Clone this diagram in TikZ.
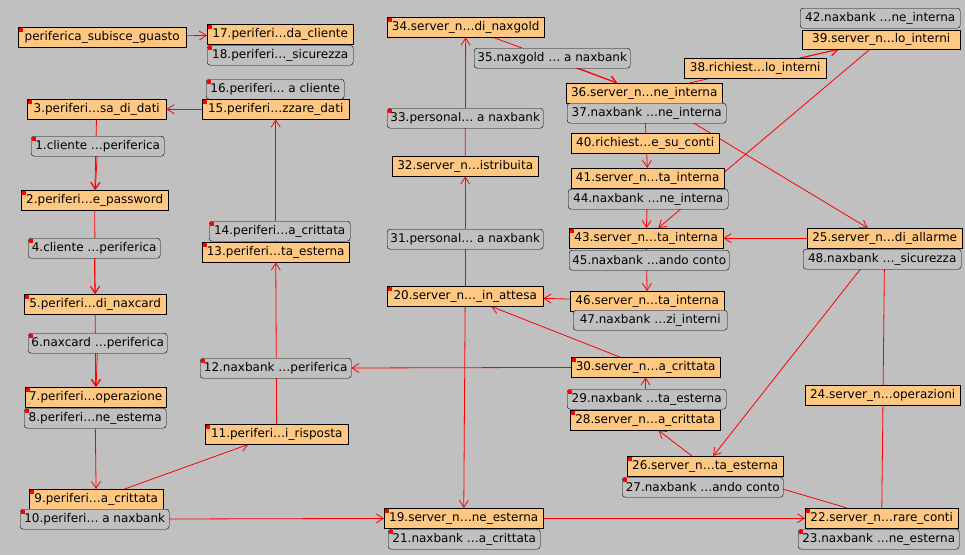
\documentclass[tikz,border=0pt]{standalone}
\usepackage{fontspec}
\usetikzlibrary{arrows.meta}
\usepackage{xcolor}
\newfontfamily\boxfont{DejaVu Sans}
\definecolor{bggrey}{RGB}{192,192,192}
\definecolor{evfill}{RGB}{255,200,130}
\pgfdeclarelayer{background}
\pgfsetlayers{background,main}

\begin{document}
\begin{tikzpicture}[
x=1pt, y=-1pt,
ev/.style={draw, fill=evfill, anchor=north west,
minimum height=20pt, inner sep=1pt,
font=\boxfont\fontsize{12pt}{14pt}\selectfont},
msg/.style={ev, fill=bggrey, rounded corners=3pt},
wd/.style={minimum width=#1pt},
arrow/.style={-{Straight Barb[length=7pt,width=9pt]}, red, line width=0.8pt}
]
\useasboundingbox (0,0) rectangle (965,555);

% left column
\node[ev, wd=168] (guasto) at (18,27) {periferica\_subisce\_guasto};
\node[ev, wd=146] (n17) at (207,24) {17.periferi…da\_cliente};
\node[msg, wd=146] (n18) at (207,45) {18.periferi…\_sicurezza};
\node[msg, wd=138] (n16) at (206,79) {16.periferi… a cliente};
\node[ev, wd=147] (n15) at (202,99) {15.periferi…zzare\_dati};
\node[ev, wd=139] (n3) at (27,99) {3.periferi…sa\_di\_dati};
\node[msg, wd=133] (n1) at (31,136) {1.cliente …periferica};
\node[ev, wd=147] (n2) at (21,190) {2.periferi…e\_password};
\node[msg, wd=132] (n4) at (28,238) {4.cliente …periferica};
\node[ev, wd=142] (n5) at (24,294) {5.periferi…di\_naxcard};
\node[msg, wd=139] (n6) at (28,333) {6.naxcard …periferica};
\node[msg, wd=141] (n14) at (209,221) {14.periferi…a\_crittata};
\node[ev, wd=147] (n13) at (202,242) {13.periferi…ta\_esterna};
\node[msg, wd=151] (n12) at (200,358) {12.naxbank …periferica};
\node[ev, wd=141] (n7) at (25,387) {7.periferi…operazione};
\node[msg, wd=142] (n8) at (24,408) {8.periferi…ne\_esterna};
\node[ev, wd=143] (n11) at (205,424) {11.periferi…i\_risposta};
\node[ev, wd=134] (n9) at (29,489) {9.periferi…a\_crittata};
\node[msg, wd=149] (n10) at (20,509) {10.periferi… a naxbank};

% middle column
\node[ev, wd=157] (n34) at (387,17) {34.server\_n…di\_naxgold};
\node[msg, wd=156] (n35) at (474,48) {35.naxgold … a naxbank};
\node[msg, wd=156] (n33) at (387,108) {33.personal… a naxbank};
\node[ev, wd=146] (n32) at (392,156) {32.server\_n…istribuita};
\node[msg, wd=156] (n31) at (387,229) {31.personal… a naxbank};
\node[ev, wd=156] (n20) at (387,286) {20.server\_n…\_in\_attesa};
\node[ev, wd=159] (n19) at (384,508) {19.server\_n…ne\_esterna};
\node[msg, wd=152] (n21) at (388,529) {21.naxbank …a\_crittata};

% right part
\node[ev, wd=156] (n36) at (566,83) {36.server\_n…ne\_interna};
\node[msg, wd=159] (n37) at (567,103) {37.naxbank …ne\_interna};
\node[ev, wd=142] (n38) at (684,58) {38.richiest…lo\_interni};
\node[msg, wd=160] (n42) at (800,8) {42.naxbank …ne\_interna};
\node[ev, wd=158, minimum height=19pt] (n39) at (802,30) {39.server\_n…lo\_interni};
\node[ev, wd=148] (n40) at (571,133) {40.richiest…e\_su\_conti};
\node[ev, wd=153] (n41) at (571,168) {41.server\_n…ta\_interna};
\node[msg, wd=160] (n44) at (568,189) {44.naxbank …ne\_interna};
\node[ev, wd=154] (n43) at (569,228) {43.server\_n…ta\_interna};
\node[msg, wd=160] (n45) at (569,250) {45.naxbank …ando conto};
\node[ev, wd=154] (n46) at (570,291) {46.server\_n…ta\_interna};
\node[msg, wd=154] (n47) at (573,310) {47.naxbank …zi\_interni};
\node[ev, wd=149] (n30) at (571,357) {30.server\_n…a\_crittata};
\node[msg, wd=159] (n29) at (567,389) {29.naxbank …ta\_esterna};
\node[ev, wd=150] (n28) at (570,410) {28.server\_n…a\_crittata};
\node[ev, wd=156] (n26) at (627,456) {26.server\_n…ta\_esterna};
\node[msg, wd=161] (n27) at (622,477) {27.naxbank …ando conto};
\node[ev, wd=155] (n25) at (807,228) {25.server\_n…di\_allarme};
\node[msg, wd=158] (n48) at (803,249) {48.naxbank …\_sicurezza};
\node[ev, wd=155] (n24) at (805,385) {24.server\_n…operazioni};
\node[ev, wd=153] (n22) at (805,508) {22.server\_n…rare\_conti};
\node[msg, wd=161] (n23) at (798,529) {23.naxbank …ne\_esterna};

% red corner marks
\foreach \n in {guasto,n17,n18,n16,n15,n3,n1,n2,n4,n5,n6,n14,n13,n12,n7,n8,n11,n9,n10,
n34,n33,n20,n19,n21,n43,n30,n29,n28,n26,n27,n22,n23}
\fill[red] (\n.north west) ++(0.5pt,-0.5pt) rectangle ++(4pt,-4pt);

\begin{pgfonlayer}{background}
\fill[bggrey] (0,0) rectangle (965,555);
\draw[arrow] (guasto) -- (n17);
\draw[arrow] (n15) -- (n3);
\draw[arrow] (n3) -- (n2);
\draw[arrow] (n1) -- (n2);
\draw[arrow] (n2) -- (n5);
\draw[arrow] (n4) -- (n5);
\draw[arrow] (n5) -- (n7);
\draw[arrow] (n6) -- (n7);
\draw[arrow] (n8) -- (n9);
\draw[arrow] (n9) -- (n11);
\draw[arrow] (n11) -- (n13);
\draw[arrow] (n13) -- (n15);
\draw[arrow] (n10) -- (n19);
\draw[arrow] (n30) -- (n12);
\draw[arrow] (n30) -- (n20);
\draw[arrow] (n46) -- (n20);
\draw[arrow] (n43) -- (n46);
\draw[arrow] (n41) -- (n43);
\draw[arrow] (n39) -- (n43);
\draw[arrow] (n25) -- (n43);
\draw[arrow] (n36) -- (n25);
\draw[arrow] (n36) -- (n41);
\draw[arrow] (n34) -- (n36);
\draw[arrow] (n35) -- (n36);
\draw[arrow] (n36) -- (n39);
\draw[arrow] (n38) -- (n39);
\draw[arrow] (n32) -- (n34);
\draw[arrow] (n20) -- (n32);
\draw[arrow] (n20) -- (n19);
\draw[arrow] (n19) -- (n22);
\draw[arrow] (n22) -- (n26);
\draw[arrow] (n22) -- (n25);
\draw[arrow] (n26) -- (n28);
\draw[arrow] (n28) -- (n30);
\draw[arrow] (n25) -- (n26);
\end{pgfonlayer}

\end{tikzpicture}
\end{document}
